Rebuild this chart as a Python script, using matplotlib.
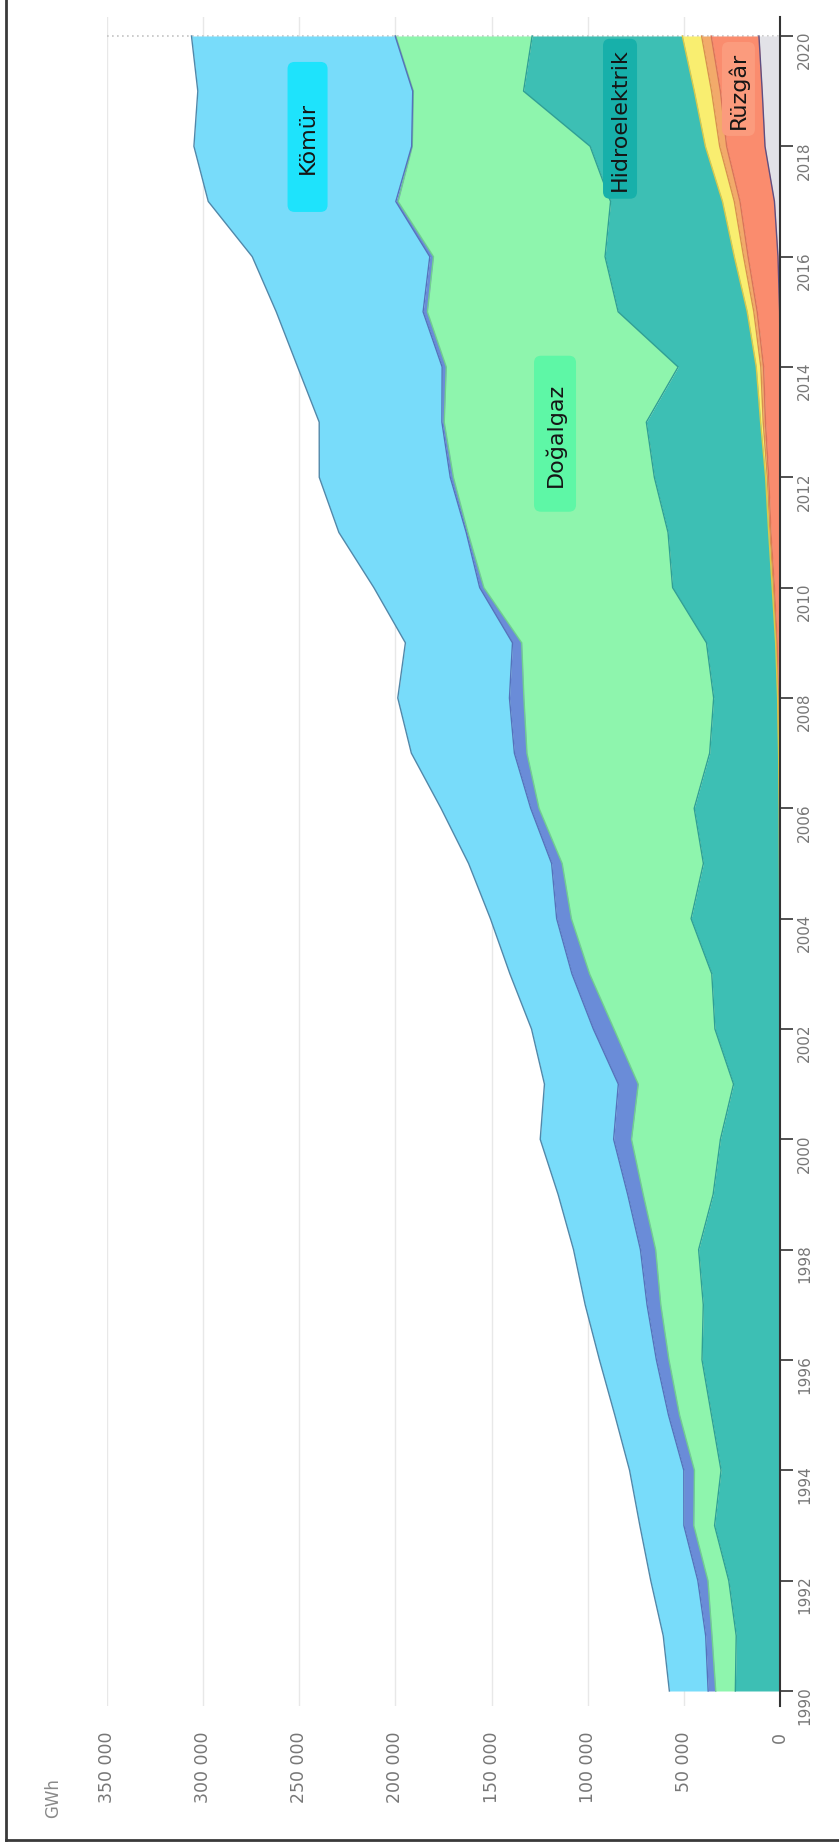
import matplotlib
matplotlib.use('Agg')  # Non-interactive backend
import matplotlib.pyplot as plt
import numpy as np
from matplotlib.lines import Line2D
from matplotlib.patches import FancyBboxPatch
from matplotlib.transforms import ScaledTranslation

# Turkey electricity generation by source, GWh
years = list(range(1990, 2021))

gunes = [0] * 24 + [17, 194, 1043, 2889, 7800, 9250, 10950]
ruzgar = [0, 0, 0, 0, 0, 0, 0, 0, 6, 21, 33, 62, 48, 61, 58, 59, 127, 355, 847, 1495,
          2916, 4724, 5861, 7558, 8520, 11652, 15517, 17904, 19949, 21731, 24828]
biyokutle = [0, 0, 0, 0, 0, 0, 0, 0, 0, 0, 0, 0, 0, 0, 0, 120, 154, 214, 220, 340,
             458, 469, 721, 1171, 1431, 1758, 2372, 2972, 3623, 4624, 5000]
jeotermal = [80, 81, 70, 78, 79, 86, 84, 83, 85, 81, 76, 90, 105, 89, 93, 94, 94, 156, 162, 436,
             668, 694, 899, 1364, 2364, 3425, 4819, 6128, 7431, 8952, 10028]
hidro = [23148, 22683, 26568, 33951, 30586, 35541, 40475, 39816, 42229, 34678, 30879, 24010,
         33684, 35330, 46084, 39561, 44244, 35851, 33270, 35958, 51796, 52339, 57865, 59420,
         40645, 67146, 67231, 58219, 59938, 88823, 78094]
dogalgaz = [10192, 12589, 10814, 10788, 13822, 16579, 17174, 22086, 22339, 36345, 46217, 49549,
            52497, 63536, 62242, 73445, 80691, 95025, 98685, 96095, 98144, 104048, 104499, 105116,
            120576, 99219, 89227, 110490, 92483, 57288, 70931]
petrol = [3942, 3294, 5273, 5175, 5549, 5772, 6540, 7157, 7923, 8080, 9311, 10366, 10744, 9196,
          7670, 5483, 4340, 6527, 7519, 4804, 2180, 904, 1639, 1196, 2145, 2224, 1926, 1202,
          329, 337, 313]
komur = [20180, 22074, 24489, 22898, 28196, 27917, 29600, 32179, 34791, 36180, 38186, 38416,
         32148, 32253, 34447, 43192, 46638, 53595, 58079, 55685, 55046, 66218, 68126, 63811,
         75137, 76356, 92335, 97530, 113248, 111768, 105925]

# stacked from the axis outwards
series = [
    (gunes, '#e2e2e7', '#5e4f82'),
    (ruzgar, '#fa8c6e', '#d9735a'),
    (biyokutle, '#f2aa6a', '#d89050'),
    (jeotermal, '#f9ee70', '#d8c94a'),
    (hidro, '#3dbfb4', '#2f9f95'),
    (dogalgaz, '#8ef5ad', '#70d08e'),
    (petrol, '#6a8cd8', '#5572bb'),
    (komur, '#78dcfa', '#4f88aa'),
]

fig = plt.figure(figsize=(8.39, 18.49), dpi=100)
ax = fig.add_axes([107 / 839, 1 - 1707 / 1849, 673 / 839, 1689 / 1849])

y = np.array(years)
base = np.zeros(len(years))
for vals, fc, lc in series:
    top = base + np.array(vals, dtype=float)
    ax.fill_betweenx(y, base, top, color=fc, lw=0, zorder=2)
    ax.plot(top, y, color=lc, lw=1, zorder=2.1)
    base = top

# dotted line at the last year
ax.plot([350000, 0], [2020, 2020], ls=(0, (1, 2)), color='#c4c4c4', lw=1.2, zorder=1)

# labels on the areas
labels = [
    ('Kömür', 245700, 2018.17, 0.40, 1.50, '#1ee3fc'),
    ('Doğalgaz', 117000, 2012.79, 0.42, 1.56, '#5ef7a6'),
    ('Hidroelektrik', 83200, 2018.50, 0.34, 1.60, '#17b0aa'),
    ('Rüzgâr', 21600, 2019.04, 0.33, 0.94, '#fb9b7d'),
]
for text, xv, yv, w, h, fc in labels:
    trans = fig.dpi_scale_trans + ScaledTranslation(xv, yv, ax.transData)
    box = FancyBboxPatch((-w / 2, -h / 2), w, h, boxstyle='round,pad=0,rounding_size=0.07',
                         transform=trans, fc=fc, ec='none', zorder=5)
    ax.add_patch(box)
    ax.text(xv, yv, text, rotation=90, ha='center', va='center', fontsize=16,
            color='#151515', zorder=6)

# axes styling
ax.set_xlim(350000, 0)
ax.set_ylim(1989.728, 2020.344)

ax.yaxis.tick_right()
ax.set_yticks(range(1990, 2021, 2))
ax.tick_params(axis='y', direction='out', length=9.4, width=1.2, color='#333333', pad=3,
               labelsize=11, labelcolor='#777777', labelrotation=90)

xt = list(range(0, 350001, 50000))
ax.set_xticks(xt)
ax.set_xticklabels([f'{v:,}'.replace(',', ' ') for v in xt])
ax.tick_params(axis='x', length=0, pad=18, labelsize=12.5, labelcolor='#777777',
               labelrotation=90)

ax.grid(axis='x', color='#e8e8e8', lw=1)
ax.grid(axis='y', visible=False)
ax.set_axisbelow(True)
for s in ['left', 'top', 'bottom']:
    ax.spines[s].set_visible(False)
ax.spines['right'].set_color('#333333')
ax.spines['right'].set_linewidth(1.5)
ax.spines['right'].set_zorder(4)

fig.text(53 / 839, 1 - 1798 / 1849, 'GWh', rotation=90, ha='center', va='center',
         fontsize=12, color='#8a8a8a')

# frame around the picture (left and bottom only)
fx = 6 / 839
fy = 1 - 1841 / 1849
fig.add_artist(Line2D([fx, fx], [fy, 1], transform=fig.transFigure, color='#3a3a3a', lw=2))
fig.add_artist(Line2D([fx, 1], [fy, fy], transform=fig.transFigure, color='#3a3a3a', lw=2))

fig.savefig('out.png', dpi=100, facecolor='white')
plt.close(fig)
